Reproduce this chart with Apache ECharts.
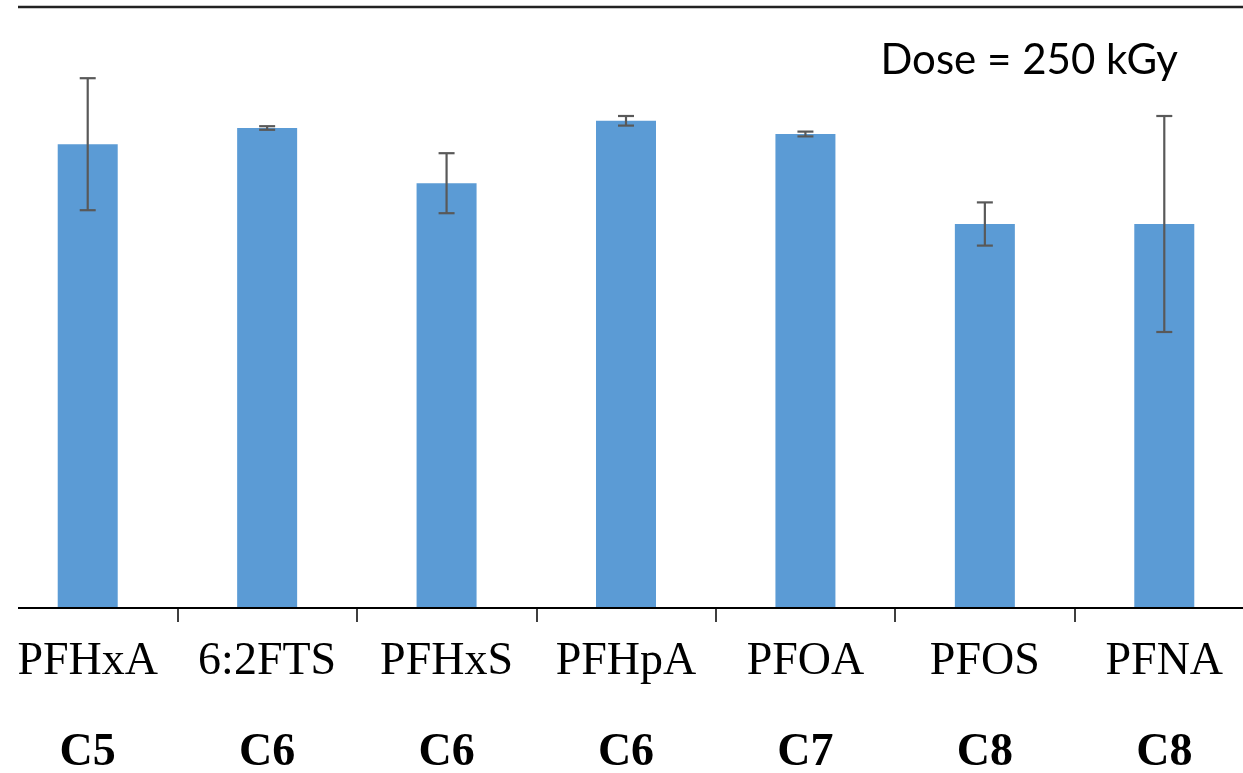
<!DOCTYPE html>
<html>
<head>
<meta charset="utf-8">
<script src="https://cdn.jsdelivr.net/npm/echarts@6/dist/echarts.min.js"></script>
<style>
  html, body { margin: 0; padding: 0; background: #fff; }
  #chart { width: 1243px; height: 773px; }
</style>
</head>
<body>
<div id="chart"></div>
<script>
// Compounds, their chain length, mean value and standard deviation
const compounds = ['PFHxA', '6:2FTS', 'PFHxS', 'PFHpA', 'PFOA', 'PFOS', 'PFNA'];
const chainLength = ['C5', 'C6', 'C6', 'C6', 'C7', 'C8', 'C8'];
const meanValues = [77.3, 80.0, 70.8, 81.2, 79.0, 64.0, 64.0];
const stdDev = [11.0, 0.3, 5.0, 0.8, 0.4, 3.6, 18.0];
const doseLabel = 'Dose = 250 kGy';
const yMax = 100;

const chart = echarts.init(document.getElementById('chart'), null, { renderer: 'canvas' });

const errorData = compounds.map((c, i) => [i, meanValues[i] - stdDev[i], meanValues[i] + stdDev[i]]);

chart.setOption({
  animation: false,
  title: {
    text: doseLabel,
    right: 60,
    top: 34,
    textStyle: { fontFamily: 'Lato', fontSize: 42, fontWeight: 'normal', color: '#000' }
  },
  // the category band runs a little past both edges of the canvas
  grid: { left: -2, width: 1256, top: 8, height: 600, containLabel: false, outerBoundsMode: 'none' },
  xAxis: {
    type: 'category',
    data: compounds,
    axisLine: { show: false },
    axisTick: { show: true, length: 14, lineStyle: { color: '#000', width: 1.5 } },
    axisLabel: {
      interval: 0,
      margin: 9,
      formatter: (v, i) => '{a|' + v + '}\n{b|' + chainLength[i] + '}',
      rich: {
        a: { fontFamily: 'Liberation Serif', fontSize: 46, color: '#000', lineHeight: 90 },
        b: { fontFamily: 'Liberation Serif', fontSize: 46, fontWeight: 'bold', color: '#000', lineHeight: 92 }
      }
    }
  },
  yAxis: {
    type: 'value',
    min: 0,
    max: yMax,
    show: false,
    splitLine: { show: false }
  },
  series: [
    {
      type: 'bar',
      data: meanValues,
      barWidth: 60,
      itemStyle: { color: '#5B9BD5' }
    },
    {
      type: 'custom',
      data: errorData,
      z: 5,
      renderItem: (params, api) => {
        const x = api.value(0);
        const lo = api.coord([x, api.value(1)]);
        const hi = api.coord([x, api.value(2)]);
        const half = 8;
        const style = { stroke: '#595959', lineWidth: 2.2, fill: null };
        return {
          type: 'group',
          children: [
            { type: 'line', shape: { x1: hi[0], y1: hi[1], x2: lo[0], y2: lo[1] }, style },
            { type: 'line', shape: { x1: hi[0] - half, y1: hi[1], x2: hi[0] + half, y2: hi[1] }, style },
            { type: 'line', shape: { x1: lo[0] - half, y1: lo[1], x2: lo[0] + half, y2: lo[1] }, style }
          ]
        };
      }
    }
  ]
});

// Frame lines: baseline at zero and a rule along the top of the plot
const yZero = chart.convertToPixel({ yAxisIndex: 0 }, 0);
const yTop = chart.convertToPixel({ yAxisIndex: 0 }, yMax);
chart.setOption({
  graphic: [
    { type: 'line', z: 10, shape: { x1: 18, y1: yZero, x2: 1243, y2: yZero }, style: { stroke: '#000', lineWidth: 2 } },
    { type: 'line', z: 10, shape: { x1: 18, y1: yTop - 1, x2: 1243, y2: yTop - 1 }, style: { stroke: '#222', lineWidth: 2.5 } }
  ]
});
</script>
</body>
</html>
